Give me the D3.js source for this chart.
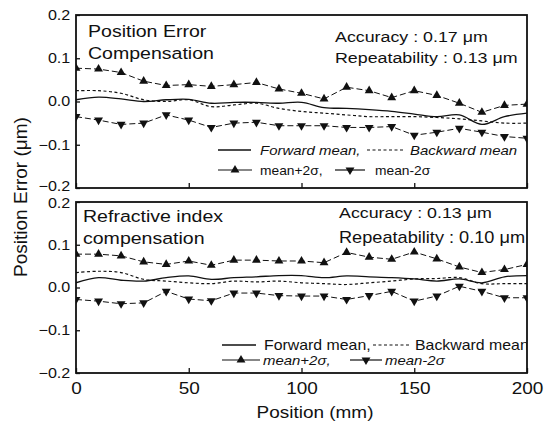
<!DOCTYPE html>
<html>
<head>
<meta charset="utf-8">
<script src="https://cdn.jsdelivr.net/npm/d3@7"></script>
<style>
  body { margin: 0; background: #fff; }
  text { font-family: "Liberation Sans", Arial, sans-serif; fill: #111; }
</style>
</head>
<body>
<div id="chart"></div>
<script>
// positions along the stage (mm), one marker every 10 mm
const positions = [0, 10, 20, 30, 40, 50, 60, 70, 80, 90, 100, 110, 120, 130, 140, 150, 160, 170, 180, 190, 200];

// top panel : position error compensation
const topForward  = [0.004, 0.010, 0.006, 0.000, 0.004, 0.005, -0.004, -0.002, -0.002, -0.004, -0.002, -0.014, -0.016, -0.019, -0.023, -0.029, -0.035, -0.031, -0.053, -0.035, -0.027];
const topBackward = [0.025, 0.025, 0.019, 0.004, 0.000, 0.004, -0.012, -0.008, -0.004, -0.016, -0.023, -0.027, -0.031, -0.035, -0.035, -0.035, -0.037, -0.040, -0.045, -0.050, -0.050];
const topUpper    = [0.077, 0.075, 0.067, 0.047, 0.037, 0.039, 0.035, 0.039, 0.044, 0.029, 0.019, 0.006, 0.033, 0.025, 0.009, 0.025, 0.014, -0.004, -0.025, -0.009, -0.006];
const topLower    = [-0.035, -0.043, -0.053, -0.050, -0.031, -0.043, -0.060, -0.050, -0.048, -0.056, -0.056, -0.056, -0.060, -0.060, -0.058, -0.078, -0.071, -0.062, -0.071, -0.081, -0.085];

// bottom panel : refractive index compensation
const botForward  = [0.011, 0.023, 0.017, 0.015, 0.023, 0.027, 0.019, 0.023, 0.025, 0.028, 0.028, 0.023, 0.027, 0.025, 0.023, 0.020, 0.015, 0.020, 0.011, 0.025, 0.028];
const botBackward = [0.035, 0.038, 0.035, 0.019, 0.015, 0.011, 0.009, 0.015, 0.013, 0.015, 0.011, 0.009, 0.007, 0.011, 0.015, 0.020, 0.021, 0.023, 0.009, 0.009, 0.009];
const botUpper    = [0.078, 0.078, 0.074, 0.060, 0.054, 0.062, 0.052, 0.064, 0.064, 0.062, 0.062, 0.058, 0.082, 0.071, 0.066, 0.083, 0.067, 0.048, 0.035, 0.042, 0.054];
const botLower    = [-0.028, -0.032, -0.038, -0.036, -0.009, -0.027, -0.031, -0.013, -0.013, -0.019, -0.020, -0.020, -0.028, -0.019, -0.009, -0.032, -0.020, 0.003, -0.009, -0.024, -0.024];

const yTicks = [-0.2, -0.1, 0.0, 0.1, 0.2];
const xTicks = [0, 50, 100, 150, 200];

const width = 544;
const height = 425;
const SX = 1.15; // the scan is a bit wider than it is tall

const svg = d3.select("#chart").append("svg")
    .attr("width", width)
    .attr("height", height);

const x = d3.scaleLinear().domain([0, 200]).range([76, 527]);

function txt(g, px, py, str, size, anchor, italic) {
    return g.append("text")
        .attr("transform", `translate(${px},${py}) scale(${SX},1)`)
        .attr("font-size", size)
        .attr("text-anchor", anchor || "start")
        .attr("font-style", italic ? "italic" : "normal")
        .text(str);
}

function drawPanel(id, top, bottom, series, notes, L, showX, edgeShift) {
    const y = d3.scaleLinear().domain([-0.2, 0.2]).range([bottom, top]);
    const g = svg.append("g");

    svg.append("clipPath").attr("id", id)
        .append("rect")
        .attr("x", x(0)).attr("y", top)
        .attr("width", x(200) - x(0)).attr("height", bottom - top);

    const inner = g.append("g").attr("clip-path", `url(#${id})`);

    // mean curves
    const meanLine = d3.line()
        .x((d, i) => x(positions[i]))
        .y(d => y(d))
        .curve(d3.curveCatmullRom.alpha(0.5));

    inner.append("path").datum(series.forward)
        .attr("d", meanLine).attr("fill", "none")
        .attr("stroke", "#111").attr("stroke-width", 1.3);
    inner.append("path").datum(series.backward)
        .attr("d", meanLine).attr("fill", "none")
        .attr("stroke", "#111").attr("stroke-width", 1.2)
        .attr("stroke-dasharray", "3,2.5");

    // +/- 2 sigma lines with triangles
    const sigLine = d3.line().x((d, i) => x(positions[i])).y(d => y(d));
    const tri = d3.symbol().type(d3.symbolTriangle).size(34);
    [[series.upper, 0], [series.lower, 180]].forEach(function (s) {
        inner.append("path").datum(s[0])
            .attr("d", sigLine).attr("fill", "none")
            .attr("stroke", "#111").attr("stroke-width", 1)
            .attr("stroke-dasharray", "6,3");
        inner.selectAll(null).data(s[0]).enter().append("path")
            .attr("d", tri)
            .attr("transform", (d, i) => `translate(${x(positions[i])},${y(d)}) rotate(${s[1]})`)
            .attr("fill", "#111");
    });

    // annotation texts
    notes.forEach(n => txt(inner, n.x, n.y, n.t, n.size));

    // legend, row 1
    inner.append("line").attr("x1", L.l1[0]).attr("x2", L.l1[1]).attr("y1", L.r1).attr("y2", L.r1)
        .attr("stroke", "#111").attr("stroke-width", 1.3);
    txt(inner, L.t1, L.r1 + 5, "Forward mean,", L.fs1, "start", L.italic1);
    inner.append("line").attr("x1", L.l2[0]).attr("x2", L.l2[1]).attr("y1", L.r1).attr("y2", L.r1)
        .attr("stroke", "#111").attr("stroke-width", 1.2).attr("stroke-dasharray", "3,2.5");
    txt(inner, L.t2, L.r1 + 5, "Backward mean", L.fs1, "start", L.italic1);

    // legend, row 2
    [[L.l3, L.t3, 0, "mean+2σ,"], [L.l4, L.t4, 180, "mean-2σ"]].forEach(function (e) {
        inner.append("line").attr("x1", e[0][0]).attr("x2", e[0][1]).attr("y1", L.r2).attr("y2", L.r2)
            .attr("stroke", "#111").attr("stroke-width", 1.2);
        inner.append("path").attr("d", tri)
            .attr("transform", `translate(${(e[0][0] + e[0][1]) / 2},${L.r2}) rotate(${e[2]})`)
            .attr("fill", "#111");
        txt(inner, e[1], L.r2 + 5, e[3], L.fs2, "start", L.italic2);
    });

    // axes
    const yAxis = d3.axisLeft(y).tickValues(yTicks).tickFormat(d3.format(".1f"))
        .tickSizeInner(-4).tickSizeOuter(0).tickPadding(5);
    const ya = g.append("g").attr("transform", `translate(${x(0)},0)`).call(yAxis);
    ya.select(".domain").remove();
    ya.selectAll("line").attr("stroke", "#111").attr("stroke-width", 1.3);
    ya.selectAll("text").attr("font-size", 14).attr("fill", "#111")
        .attr("font-family", "Liberation Sans, Arial, sans-serif")
        .attr("transform", d => {
            // the two panels' end labels almost touch, ease them apart a little
            let dy = 0;
            if (d === -0.2) dy = edgeShift.bottom;
            if (d === 0.2) dy = edgeShift.top;
            return `translate(0,${dy}) scale(${SX},1)`;
        });

    const xAxis = d3.axisBottom(x).tickValues(xTicks).tickFormat(d3.format("d"))
        .tickSizeInner(-5).tickSizeOuter(0).tickPadding(9);
    const xa = g.append("g").attr("transform", `translate(0,${bottom})`).call(xAxis);
    xa.select(".domain").remove();
    xa.selectAll("line").attr("stroke", "#111").attr("stroke-width", 1.3);
    xa.selectAll("text").attr("font-size", 16.5).attr("fill", "#111")
        .attr("font-family", "Liberation Sans, Arial, sans-serif")
        .attr("transform", `scale(${SX},1)`)
        .style("display", showX ? null : "none");

    // frame
    g.append("rect")
        .attr("x", x(0)).attr("y", top)
        .attr("width", x(200) - x(0)).attr("height", bottom - top)
        .attr("fill", "none").attr("stroke", "#111").attr("stroke-width", 1.8);
}

drawPanel("clipTop", 15, 188,
    { forward: topForward, backward: topBackward, upper: topUpper, lower: topLower },
    [
        { x: 88, y: 37, t: "Position Error", size: 17 },
        { x: 88, y: 59, t: "Compensation", size: 17 },
        { x: 335, y: 42, t: "Accuracy : 0.17 μm", size: 15.5 },
        { x: 335, y: 63, t: "Repeatability : 0.13 μm", size: 15.5 }
    ],
    { r1: 150, r2: 170, fs1: 13, fs2: 12,
      l1: [218, 251], t1: 260, l2: [367, 404], t2: 410, italic1: true,
      l3: [218, 252], t3: 260, l4: [335, 365], t4: 375, italic2: false },
    false, { top: 0, bottom: -2 });

drawPanel("clipBot", 202, 373,
    { forward: botForward, backward: botBackward, upper: botUpper, lower: botLower },
    [
        { x: 83, y: 222, t: "Refractive index", size: 17 },
        { x: 83, y: 244, t: "compensation", size: 17 },
        { x: 339, y: 218, t: "Accuracy : 0.13 μm", size: 15.5 },
        { x: 339, y: 243, t: "Repeatability : 0.10 μm", size: 15.8 }
    ],
    { r1: 345, r2: 360, fs1: 13.8, fs2: 13,
      l1: [222, 256], t1: 264, l2: [373, 410], t2: 415, italic1: false,
      l3: [222, 260], t3: 263, l4: [350, 382], t4: 385, italic2: true },
    true, { top: 1.5, bottom: 0 });

// axis titles
txt(svg, 315, 418, "Position (mm)", 16.5, "middle");
svg.append("text")
    .attr("transform", "translate(27,197) rotate(-90)")
    .attr("font-size", 19)
    .attr("text-anchor", "middle")
    .text("Position Error (μm)");
</script>
</body>
</html>
